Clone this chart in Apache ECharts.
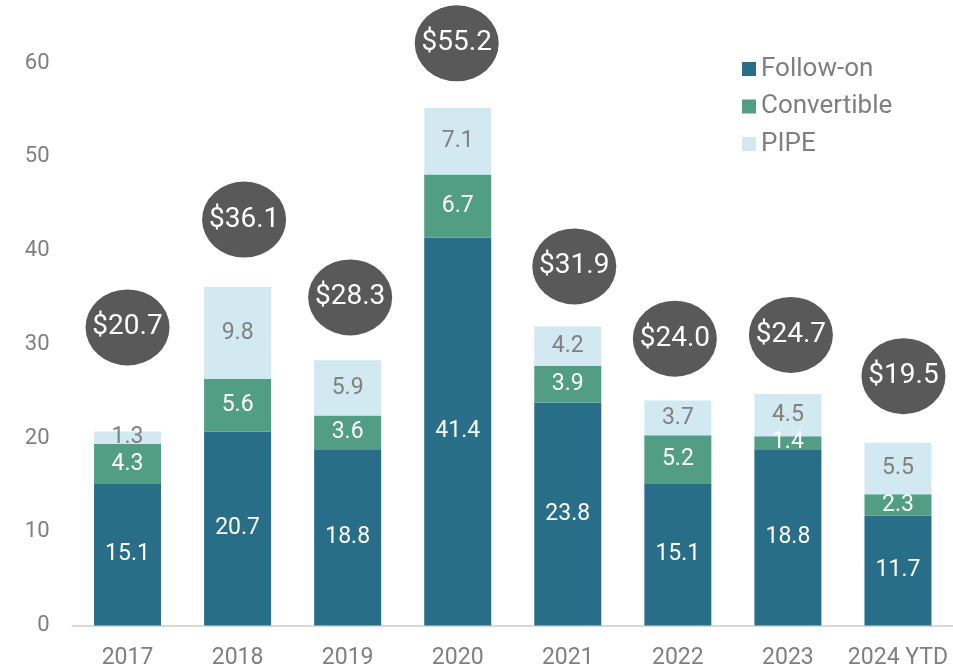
<!DOCTYPE html>
<html>
<head>
    <meta charset="utf-8">
    <title></title>
    <script src="https://cdn.jsdelivr.net/npm/echarts@6/dist/echarts.min.js"></script>
    <style type="text/css">
        html, body {
            margin: 0;
            padding: 0;
            width: 100%;
            height: 100%;
            background: #fff;
        }
    </style>
</head>
<body>
    <div id="chart" style="width: 953px; height: 668px;"></div>

    <script type="text/javascript">
        var years = ['2017', '2018', '2019', '2020', '2021', '2022', '2023', '2024 YTD'];
        var followOn = [15.1, 20.7, 18.8, 41.4, 23.8, 15.1, 18.8, 11.7];
        var convertible = [4.3, 5.6, 3.6, 6.7, 3.9, 5.2, 1.4, 2.3];
        var pipe = [1.3, 9.8, 5.9, 7.1, 4.2, 3.7, 4.5, 5.5];
        var totals = [20.7, 36.1, 28.3, 55.2, 31.9, 24.0, 24.7, 19.5];
        // height (in axis units) where each total bubble sits
        var bubbleY = [31.8, 43.3, 35.0, 62.1, 38.3, 30.6, 31.0, 26.6];

        var fontName = 'Roboto';
        var myChart = echarts.init(document.getElementById('chart'));

        // bubbles are not exactly centred over their bars
        var bubbleShift = [0, 6.5, 2.5, -1, 6.5, -3, 3, 5.5];

        function barSeries(name, data, color, labelColor) {
            return {
                name: name,
                type: 'bar',
                stack: 'total',
                barWidth: 67,
                data: data,
                itemStyle: { color: color },
                label: {
                    show: true,
                    position: 'inside',
                    color: labelColor,
                    fontFamily: fontName,
                    fontSize: 23
                }
            };
        }

        var option = {
            animation: false,
            grid: { left: 72.5, right: 0, top: 63, bottom: 42.5, outerBoundsMode: 'none' },
            legend: {
                data: ['Follow-on', 'Convertible', 'PIPE'],
                orient: 'vertical',
                left: 742,
                top: 56,
                padding: 0,
                itemWidth: 14,
                itemHeight: 14,
                itemGap: 11.5,
                icon: 'rect',
                textStyle: {
                    color: '#7f7f7f',
                    fontFamily: fontName,
                    fontSize: 26,
                    lineHeight: 26
                }
            },
            xAxis: {
                type: 'category',
                data: years,
                axisLine: { lineStyle: { color: '#d9d9d9', width: 2 } },
                axisTick: { show: false },
                axisLabel: {
                    interval: 0,
                    color: '#7f7f7f',
                    fontFamily: fontName,
                    fontSize: 23,
                    margin: 21
                }
            },
            yAxis: {
                type: 'value',
                min: 0,
                max: 60,
                interval: 10,
                splitLine: { show: false },
                axisLine: { show: false },
                axisTick: { show: false },
                axisLabel: {
                    color: '#7f7f7f',
                    fontFamily: fontName,
                    fontSize: 22,
                    margin: 23
                }
            },
            series: [
                barSeries('Follow-on', followOn, '#286e89', '#ffffff'),
                barSeries('Convertible', convertible, '#529e85', '#ffffff'),
                barSeries('PIPE', pipe, '#d3e9f1', '#808080'),
                {
                    name: 'Total',
                    type: 'scatter',
                    clip: false,
                    symbol: 'circle',
                    symbolSize: [84, 76],
                    itemStyle: { color: '#595959', opacity: 1 },
                    data: years.map(function (y, i) {
                        return {
                            value: [i, bubbleY[i], totals[i]],
                            symbolOffset: [bubbleShift[i], 0]
                        };
                    }),
                    label: {
                        show: true,
                        position: 'inside',
                        color: '#ffffff',
                        fontFamily: fontName,
                        fontSize: 28,
                        formatter: function (p) {
                            return '$' + p.value[2].toFixed(1);
                        }
                    },
                    z: 5
                }
            ]
        };
        myChart.setOption(option);
    </script>
</body>
</html>
